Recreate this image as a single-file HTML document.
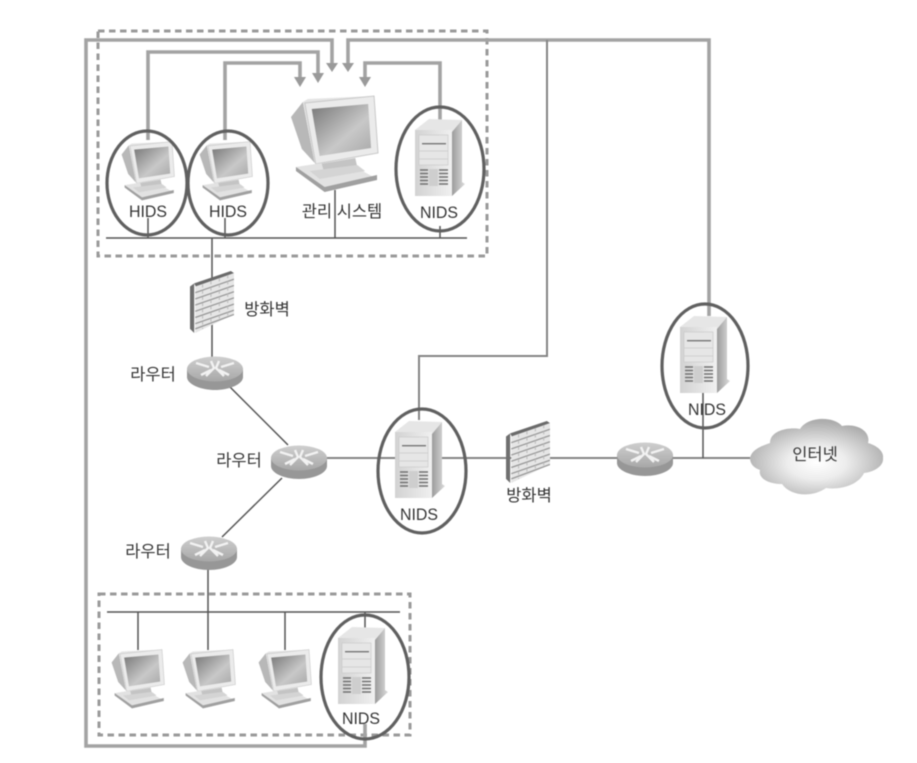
<!DOCTYPE html>
<html><head><meta charset="utf-8">
<style>
html,body{margin:0;padding:0;background:#fff;width:917px;height:763px;overflow:hidden}
svg{display:block;filter:blur(.6px)}
text{font-family:"Liberation Sans","Noto Sans CJK KR",sans-serif;font-size:17px;fill:#333;text-anchor:middle}
.k{font-size:16.5px}
.th{fill:none;stroke:#a3a3a3;stroke-width:3.6}
.tn{fill:none;stroke:#555;stroke-width:1.5}
.tg{fill:none;stroke:#858585;stroke-width:2}
.el{fill:none;stroke:#606060;stroke-width:3.2}
.ds{fill:none;stroke:#9a9a9a;stroke-width:3;stroke-dasharray:6.5 4.5}
</style></head><body>
<svg width="917" height="763" viewBox="0 0 917 763" xmlns="http://www.w3.org/2000/svg">
<defs>
<linearGradient id="scr" x1="0" y1="0" x2="1" y2="1"><stop offset="0" stop-color="#777"/><stop offset=".6" stop-color="#c8c8c8"/><stop offset="1" stop-color="#a8a8a8"/></linearGradient>
<linearGradient id="sv" x1="0" y1="0" x2="1" y2="0"><stop offset="0" stop-color="#d2d2d2"/><stop offset="1" stop-color="#f0f0f0"/></linearGradient>
<linearGradient id="sd" x1="0" y1="0" x2="1" y2="0"><stop offset="0" stop-color="#9c9c9c"/><stop offset="1" stop-color="#dcdcdc"/></linearGradient>
<linearGradient id="rt" x1="0" y1="0" x2="0" y2="1"><stop offset="0" stop-color="#cfcfcf"/><stop offset="1" stop-color="#a8a8a8"/></linearGradient>
<radialGradient id="cl" cx=".5" cy=".58" r=".55"><stop offset="0" stop-color="#fff"/><stop offset=".4" stop-color="#ededed"/><stop offset="1" stop-color="#adadad"/></radialGradient>
<symbol id="mon" viewBox="0 0 90 98" preserveAspectRatio="none">
<polygon points="1,22 13,7 25,68 12,54" fill="#b8b8b8"/>
<polygon points="13,7 18,4 85,1 28,70 25,68" fill="#e4e4e4"/>
<polygon points="15,8 85,1 89,58 26,69" fill="#ebebeb" stroke="#c8c8c8" stroke-width="1"/>
<polygon points="22,14 79,9 82,53 30,61" fill="url(#scr)"/>
<polygon points="30,69 66,63 68,72 34,78" fill="#c4c4c4"/>
<polygon points="6,72 32,68 34,76 66,72 88,84 35,97" fill="#e2e2e2"/>
<polygon points="6,72 35,92 88,80 88,85 35,97 6,76" fill="#a0a0a0"/>
<polygon points="20,76 68,70 76,76 30,84" fill="#d4d4d4"/>
</symbol>
<symbol id="srv" viewBox="0 0 50 78" preserveAspectRatio="none">
<polygon points="0,12 14,1 47,2 37,14" fill="#e6e6e6"/>
<polygon points="37,14 47,2 47,64 50,66 37,78" fill="url(#sd)"/>
<rect x="0" y="12" width="37" height="66" fill="url(#sv)"/>
<rect x="4" y="17" width="29" height="30" fill="#e6e6e6" stroke="#cacaca" stroke-width=".7"/>
<rect x="7" y="25" width="24" height="1.4" fill="#777"/>
<path d="M4 33H33M4 41H33" stroke="#cacaca" stroke-width=".8"/>
<path d="M5 52H13M5 55.5H13M5 59H13M5 62.5H13M5 66H13M24 52H33M24 55.5H33M24 59H33M24 62.5H33M24 66H33" stroke="#707070" stroke-width="1.6"/>
<rect x="14" y="51" width="9" height="17" fill="#cecece"/>
</symbol>
<symbol id="fw" viewBox="0 0 42 60" preserveAspectRatio="none">
<polygon points="0,15 4,12 4,60 0,56" fill="#6f6f6f"/>
<polygon points="4,12 39,0 42,2 6,16" fill="#6a6a6a"/>
<polygon points="5,15 42,2 42,42 5,60" fill="#e6e6e6"/>
<path d="M5 21L42 8M5 27L42 14M5 33L42 20M5 39L42 26M5 45L42 32M5 51L42 38M5 56L42 42" stroke="#979797" stroke-width="1.2"/>
<path d="M12 13V56M20 10V52M28 7V49M36 4V45" stroke="#bbb" stroke-width="1" stroke-dasharray="3 3"/>
</symbol>
<symbol id="rtr" viewBox="0 0 56 34" preserveAspectRatio="none">
<path d="M0 13V21C0 28 13 34 28 34S56 28 56 21V13Z" fill="#979797"/>
<ellipse cx="28" cy="13" rx="28" ry="12.5" fill="url(#rt)"/>
<path d="M9 7L22 11M14 19L24 14M47 7L34 11M42 19L32 14M24 5L27 12L19 20M32 5L29 12L37 20" stroke="#f2f2f2" stroke-width="2.4" fill="none"/>
</symbol>
</defs>

<!-- dashed boxes -->
<rect class="ds" x="98" y="31" width="389" height="225"/>
<rect class="ds" x="99" y="594" width="311" height="141"/>

<!-- thick management lines -->
<path class="th" d="M332 64V40H86V746H365V724"/>
<path class="th" d="M348 64V40H709V316"/>
<path class="th" d="M148 140V52H318V74"/>
<path class="th" d="M225 140V63H300V78"/>
<path class="th" d="M440 120V63H365V78"/>
<g fill="#9a9a9a">
<polygon points="326,63 338,63 332,72"/>
<polygon points="342,63 354,63 348,72"/>
<polygon points="312,73 324,73 318,83"/>
<polygon points="294,77 306,77 300,87"/>
<polygon points="359,77 371,77 365,87"/>
</g>
<path class="tg" d="M547 40V356H419V420"/>

<!-- network lines -->
<path class="tn" d="M106 238H467M148 218V238M225 218V238M335 190V238M440 226V238M212 238V360"/>
<path class="tn" d="M230 387L288 445M282 478L222 537M208 568V612M107 612H400M138 612V650M285 612V650M208 612V650M365 612V628"/>
<path class="tg" d="M327 458H750"/>
<path class="tn" d="M703 392V458"/>

<!-- icons -->
<use href="#mon" x="290" y="95" width="89" height="98"/>
<use href="#mon" x="121" y="141" width="54" height="60"/>
<use href="#mon" x="199" y="141" width="54" height="60"/>
<use href="#mon" x="111" y="649" width="54" height="60"/>
<use href="#mon" x="182" y="649" width="54" height="60"/>
<use href="#mon" x="258" y="649" width="54" height="60"/>
<use href="#srv" x="415" y="118" width="50" height="78"/>
<use href="#srv" x="395" y="420" width="50" height="78"/>
<use href="#srv" x="680" y="315" width="50" height="78"/>
<use href="#srv" x="338" y="626" width="50" height="78"/>
<use href="#fw" x="190" y="271" width="44" height="62"/>
<use href="#fw" x="506" y="421" width="44" height="62"/>
<use href="#rtr" x="187" y="356" width="56" height="34"/>
<use href="#rtr" x="271" y="445" width="56" height="34"/>
<use href="#rtr" x="181" y="536" width="56" height="34"/>
<use href="#rtr" x="617" y="442" width="56" height="34"/>
<path d="M750 458C752 449 762 446 770 443C770 430 790 427 800 429C808 416 834 416 842 426C858 423 871 432 868 443C878 446 884 452 883 458C884 466 874 472 864 473C858 486 838 490 826 488C812 498 790 496 782 484C768 484 758 478 760 470C754 468 750 464 750 458Z" fill="url(#cl)"/>

<!-- ellipses -->
<ellipse class="el" cx="147" cy="183" rx="40" ry="52"/>
<ellipse class="el" cx="228" cy="183" rx="40" ry="52"/>
<ellipse class="el" cx="440" cy="169" rx="44" ry="62"/>
<ellipse class="el" cx="422" cy="471" rx="44" ry="62"/>
<ellipse class="el" cx="705" cy="366" rx="43" ry="62"/>
<ellipse class="el" cx="365" cy="677" rx="44" ry="62"/>

<!-- labels -->
<text x="148" y="217" textLength="38" lengthAdjust="spacingAndGlyphs">HIDS</text>
<text x="228" y="217" textLength="38" lengthAdjust="spacingAndGlyphs">HIDS</text>
<text x="342" y="217" class="k">관리 시스템</text>
<text x="439" y="218" textLength="38" lengthAdjust="spacingAndGlyphs">NIDS</text>
<text x="267" y="315" class="k">방화벽</text>
<text x="153" y="380" class="k">라우터</text>
<text x="239" y="466" class="k">라우터</text>
<text x="148" y="557" class="k">라우터</text>
<text x="419" y="520" textLength="38" lengthAdjust="spacingAndGlyphs">NIDS</text>
<text x="707" y="415" textLength="38" lengthAdjust="spacingAndGlyphs">NIDS</text>
<text x="529" y="501" class="k">방화벽</text>
<text x="815" y="460" class="k">인터넷</text>
<text x="361" y="724" textLength="38" lengthAdjust="spacingAndGlyphs">NIDS</text>
</svg>
</body></html>
